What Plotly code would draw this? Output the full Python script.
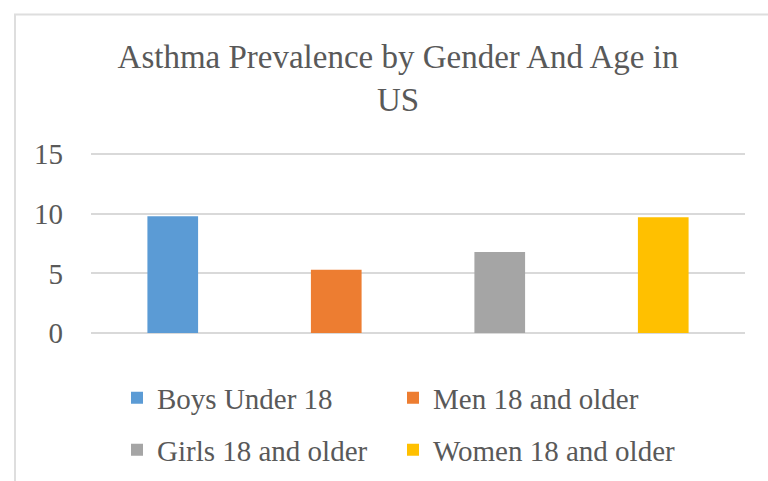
import plotly.graph_objects as go

categories = ["Boys Under 18", "Men 18 and older", "Girls 18 and older", "Women 18 and older"]
values = [9.8, 5.3, 6.8, 9.7]
colors = ["#5B9BD5", "#ED7D31", "#A5A5A5", "#FFC000"]
legend_ids = ["legend", "legend2", "legend3", "legend4"]
y_ticks = [0, 5, 10, 15]

FONT = "Liberation Serif, Times New Roman, serif"
TXT = "#595959"

fig = go.Figure()
for cat, val, col, lg in zip(categories, values, colors, legend_ids):
    fig.add_trace(go.Bar(x=[cat], y=[val], name=cat, marker_color=col,
                         marker_line_width=0, width=0.31, legend=lg, showlegend=True))

W, H = 768, 481
L, R, T, B = 91, 23, 153, 148
pw, ph = W - L - R, H - T - B

def px_x(p):
    return (p - L) / pw

def px_y(p):
    return (H - B - p) / ph

def leg(xp, yp):
    return dict(orientation="h", font=dict(family=FONT, size=29, color=TXT),
                bgcolor="rgba(0,0,0,0)", xanchor="left", yanchor="middle",
                x=px_x(xp), y=px_y(yp), visible=True)

fig.update_layout(
    width=W, height=H,
    margin=dict(l=L, r=R, t=T, b=B, autoexpand=False),
    paper_bgcolor="white", plot_bgcolor="white",
    barmode="overlay",
    showlegend=True,
    font=dict(family=FONT, color=TXT),
    title=dict(text="Asthma Prevalence by Gender And Age in<br>US",
               font=dict(family=FONT, size=33, color=TXT),
               x=398 / W, xanchor="center", xref="container",
               y=1 - 68 / H, yanchor="middle", yref="container"),
    xaxis=dict(showticklabels=False, showgrid=False, zeroline=False, showline=False,
               ticks=""),
    yaxis=dict(range=[0, 15.1], tickvals=y_ticks, showgrid=True, gridcolor="#D9D9D9",
               gridwidth=1.5, zeroline=True, zerolinecolor="#D9D9D9", zerolinewidth=1.5,
               showline=False, ticks="", ticklabelstandoff=27,
               tickfont=dict(family=FONT, size=29, color=TXT)),
    legend=leg(117, 398),
    legend2=leg(393, 398),
    legend3=leg(117, 450),
    legend4=leg(393, 450),
    shapes=[dict(type="rect", xref="paper", yref="paper",
                 x0=px_x(15), x1=px_x(W + 2), y0=px_y(H + 2), y1=px_y(14.5),
                 line=dict(color="#DEDEDE", width=2), fillcolor="rgba(0,0,0,0)",
                 layer="below")],
)

fig.write_html("out.html", config={"displayModeBar": False},
               post_script="document.body.style.margin='0';")
